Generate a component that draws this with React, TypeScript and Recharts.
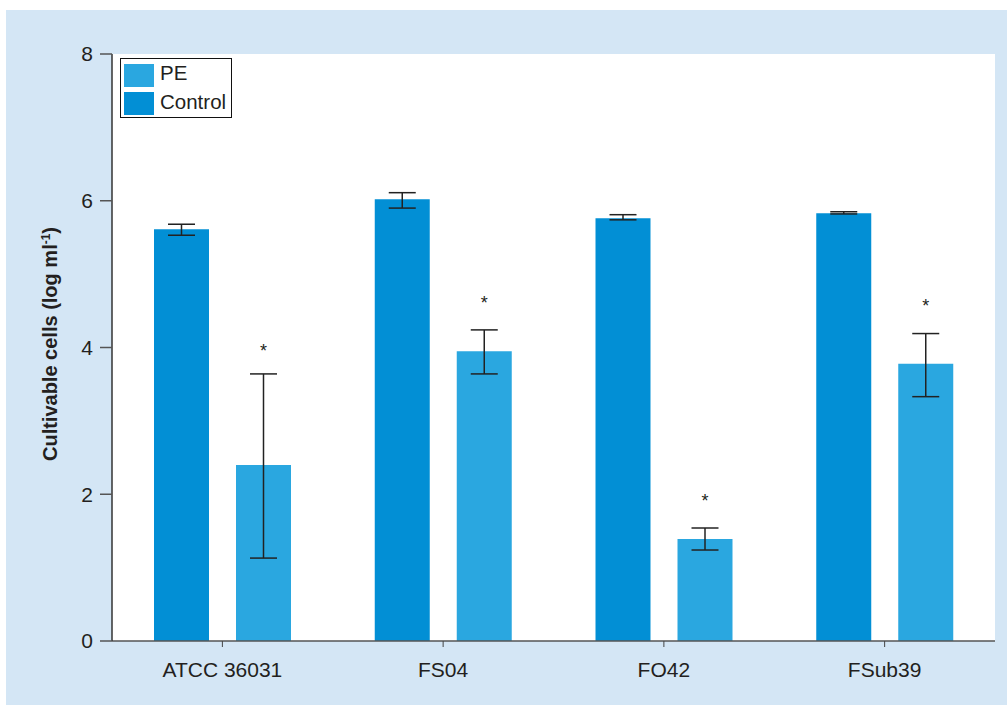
import React from 'react';
import {
  BarChart,
  Bar,
  XAxis,
  YAxis,
  CartesianGrid,
  ErrorBar,
  LabelList,
  Legend,
} from 'recharts';

const strains = ['ATCC 36031', 'FS04', 'FO42', 'FSub39'];
const controlValues = [5.61, 6.02, 5.76, 5.83];
const controlErrors = [[0.08, 0.07], [0.12, 0.09], [0.02, 0.05], [0.01, 0.02]];
const peValues = [2.4, 3.95, 1.39, 3.78];
const peErrors = [[1.27, 1.24], [0.31, 0.29], [0.15, 0.15], [0.45, 0.41]];
const starLevels = [4.02, 4.67, 1.98, 4.63];
const yTicks = [0, 2, 4, 6, 8];

const CONTROL = '#028fd5';
const PE = '#2aa7e0';
const INK = '#231f20';
const FONT = '"Liberation Sans", Arial, Helvetica, sans-serif';

const data = strains.map((s, i) => ({
  strain: s,
  control: controlValues[i],
  controlErr: controlErrors[i],
  pe: peValues[i],
  peErr: peErrors[i],
  star: starLevels[i],
}));

// asterisk above the PE bar, placed with the bar's own pixel scale
const Star = (props: any) => {
  const { x, y, width, height, index } = props;
  const v = peValues[index];
  if (!v) return null;
  const perUnit = height / v;
  const cy = y + height - starLevels[index] * perUnit;
  return (
    <text x={x + width / 2} y={cy + 11} textAnchor="middle" fontSize={18} fill={INK} fontFamily={FONT}>
      *
    </text>
  );
};

const LegendBox = () => (
  <div
    style={{
      border: '1px solid #111',
      background: '#fff',
      width: 110,
      height: 58,
      fontFamily: FONT,
      fontSize: 20.5,
      color: INK,
      boxSizing: 'content-box',
    }}
  >
    {[
      { name: 'PE', color: PE },
      { name: 'Control', color: CONTROL },
    ].map((it, i) => (
      <div key={it.name} style={{ display: 'flex', alignItems: 'center', height: 28, marginTop: i === 0 ? 2 : 0 }}>
        <div style={{ width: 30, height: 23, background: it.color, marginLeft: 3, marginRight: 6 }} />
        <span style={{ lineHeight: '20px', marginTop: i === 0 ? -4 : -2 }}>{it.name}</span>
      </div>
    ))}
  </div>
);

const YLabel = () => (
  <text
    transform="translate(57, 344) rotate(-90)"
    textAnchor="middle"
    fontFamily={FONT}
    fontWeight="bold"
    fontSize={20}
    fill={INK}
  >
    Cultivable cells (log ml
    <tspan dy={-7} fontSize={12}>-1</tspan>
    <tspan dy={7}>)</tspan>
  </text>
);

export default function App() {
  return (
    <div style={{ position: 'absolute', left: 0, top: 0, width: 1007, height: 705, background: '#fff' }}>
      <div style={{ position: 'absolute', left: 6, top: 10, right: 0, bottom: 0, background: '#d4e6f5' }} />
      <div style={{ position: 'absolute', left: 0, top: 0 }}>
        <BarChart
          width={1007}
          height={705}
          data={data}
          margin={{ top: 54, right: 12, bottom: 0, left: 12 }}
          barSize={55}
          barGap={27}
        >
          <CartesianGrid fill="#fff" stroke="none" horizontal={false} vertical={false} />
          <XAxis
            dataKey="strain"
            height={64}
            tickSize={6}
            tickMargin={15}
            axisLine={{ stroke: '#555', strokeWidth: 1.5 }}
            tickLine={{ stroke: '#444' }}
            tick={{ fill: INK, fontSize: 21, fontFamily: FONT }}
          />
          <YAxis
            width={100}
            domain={[0, 8]}
            ticks={yTicks}
            tickSize={12}
            tickMargin={7}
            axisLine={{ stroke: '#333', strokeWidth: 1.5 }}
            tickLine={{ stroke: '#555', strokeWidth: 1.5 }}
            tick={{ fill: INK, fontSize: 21, fontFamily: FONT }}
            label={<YLabel />}
          />
          <Legend
            layout="vertical"
            align="center"
            verticalAlign="middle"
            wrapperStyle={{ left: 120, top: 58, width: 'auto', height: 'auto' }}
            content={<LegendBox />}
          />
          <Bar dataKey="control" fill={CONTROL} isAnimationActive={false}>
            <ErrorBar dataKey="controlErr" width={13.5} stroke="#222" strokeWidth={1.5} />
          </Bar>
          <Bar dataKey="pe" fill={PE} isAnimationActive={false}>
            <ErrorBar dataKey="peErr" width={13.5} stroke="#222" strokeWidth={1.5} />
            <LabelList dataKey="star" content={<Star />} />
          </Bar>
        </BarChart>
      </div>
    </div>
  );
}
